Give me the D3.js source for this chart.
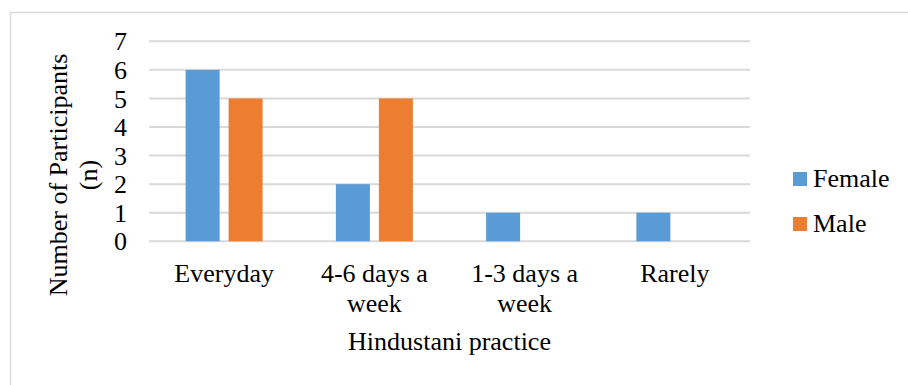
<!DOCTYPE html>
<html>
<head>
<meta charset="utf-8">
<script src="https://cdn.jsdelivr.net/npm/d3@7/dist/d3.min.js"></script>
<style>
	body { margin: 0; background: #fff; }
</style>
</head>
<body>
<div id="root"></div>
<script>
const categories = ['Everyday', '4-6 days a week', '1-3 days a week', 'Rarely']
const seriesNames = ['Female', 'Male']
const female = [6, 2, 1, 1]
const male = [5, 5, 0, 0]
const yTicks = [0, 1, 2, 3, 4, 5, 6, 7]

const C = {
	width: 908,
	height: 385,
	font: 26,
	family: '"Liberation Serif", "Times New Roman", serif',
	plot: { left: 149, right: 750, top: 41.3, bottom: 241.3 },
	colors: { Female: '#5b9bd5', Male: '#ed7d31' },
	grid: '#d9d9d9',
}

const container = d3.select('#root')

const svg = container.append('svg')
	.attr('width', C.width)
	.attr('height', C.height)
	.attr('font-family', C.family)
	.attr('font-size', C.font)

// chart frame, only top and left edges fall inside the picture
svg.append('rect')
	.attr('x', 10.5)
	.attr('y', 12.5)
	.attr('width', C.width)
	.attr('height', C.height)
	.attr('fill', 'none')
	.attr('stroke', C.grid)
	.attr('stroke-width', 1.5)

const data = categories.map((c, i) => ({ category: c, Female: female[i], Male: male[i] }))

const xScale = d3.scaleBand()
	.domain(categories)
	.range([C.plot.left, C.plot.right])
	.paddingInner(0.4875)
	.paddingOuter(0.4875 / 2)

const xSub = d3.scaleBand()
	.domain(seriesNames)
	.range([0, xScale.bandwidth()])
	.paddingInner(0.2093)

const yScale = d3.scaleLinear()
	.domain([0, 7])
	.range([C.plot.bottom, C.plot.top])

// -- grid --
svg.append('g')
	.attr('class', 'grid')
	.selectAll('line')
	.data(yTicks)
	.enter()
	.append('line')
	.attr('x1', C.plot.left)
	.attr('x2', C.plot.right)
	.attr('y1', d => yScale(d))
	.attr('y2', d => yScale(d))
	.attr('stroke', C.grid)
	.attr('stroke-width', 2)

// -- y axis labels --
const axisY = d3.axisLeft(yScale)
	.tickValues(yTicks)
	.tickFormat(d3.format('d'))
	.tickSize(0)
	.tickPadding(0)

const gY = svg.append('g')
	.attr('class', 'axisY')
	.attr('transform', 'translate(127,0)')
	.call(axisY)
	.attr('font-family', C.family)
	.attr('font-size', C.font)
gY.select('.domain').remove()
gY.selectAll('text')
	.attr('fill', '#000')
	.attr('dy', '0.33em')

// -- bars --
const groups = svg.selectAll('.group')
	.data(data)
	.enter()
	.append('g')
	.attr('class', 'group')
	.attr('transform', d => `translate(${xScale(d.category)},0)`)

groups.selectAll('rect')
	.data(d => seriesNames.map(s => ({ key: s, value: d[s] })))
	.enter()
	.filter(d => d.value > 0)
	.append('rect')
	.attr('x', d => xSub(d.key))
	.attr('y', d => yScale(d.value))
	.attr('width', xSub.bandwidth())
	.attr('height', d => yScale(0) - yScale(d.value))
	.attr('fill', d => C.colors[d.key])

// -- x axis labels --
const axisX = d3.axisBottom(xScale)
	.tickSize(0)
	.tickPadding(0)

const gX = svg.append('g')
	.attr('class', 'axisX')
	.attr('transform', 'translate(0,282)')
	.call(axisX)
	.attr('font-family', C.family)
	.attr('font-size', C.font)
gX.select('.domain').remove()
gX.selectAll('text')
	.attr('fill', '#000')
	.attr('dy', 0)
	.call(wrap, xScale.step())

// -- axis titles --
svg.append('text')
	.attr('x', (C.plot.left + C.plot.right) / 2)
	.attr('y', 350)
	.attr('text-anchor', 'middle')
	.text('Hindustani practice')

const yTitle = svg.append('text')
	.attr('transform', 'translate(67,175) rotate(-90)')
	.attr('text-anchor', 'middle')
yTitle.append('tspan').attr('x', 0).attr('dy', 0).text('Number of Participants')
yTitle.append('tspan').attr('x', 0).attr('dy', 30).text('(n)')

// -- legend --
const legend = svg.append('g')
	.attr('class', 'legend')
	.selectAll('g')
	.data(seriesNames)
	.enter()
	.append('g')
	.attr('transform', (d, i) => `translate(793,${172 + i * 45})`)

legend.append('rect')
	.attr('width', 14)
	.attr('height', 14)
	.attr('fill', d => C.colors[d])

legend.append('text')
	.attr('x', 20)
	.attr('y', 15)
	.text(d => d)

function wrap(texts, width) {
	texts.each(function() {
		const text = d3.select(this)
		const words = text.text().split(' ')
		text.text(null)
		let line = []
		let tspan = text.append('tspan').attr('x', 0).attr('dy', 0)
		words.forEach(w => {
			line.push(w)
			tspan.text(line.join(' '))
			if (tspan.node().getComputedTextLength() > width && line.length > 1) {
				line.pop()
				tspan.text(line.join(' '))
				line = [w]
				tspan = text.append('tspan').attr('x', 0).attr('dy', 30).text(w)
			}
		})
	})
}
</script>
</body>
</html>
